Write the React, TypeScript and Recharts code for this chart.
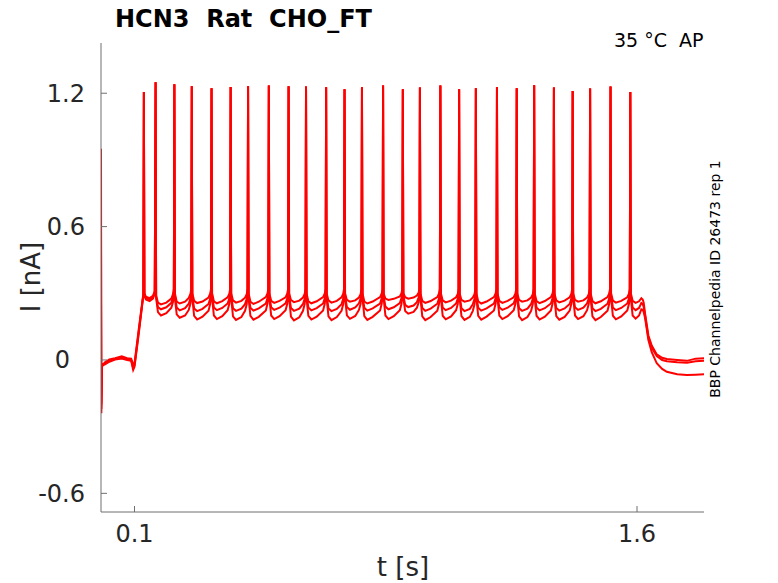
import { LineChart, Line, XAxis, YAxis } from "recharts";

// sample times [s], shared by the three sweeps
const timeS = [
  0, 0.001, 0.003, 0.012, 0.025, 0.042, 0.062, 0.078, 0.09, 0.096, 0.1, 0.112, 0.124,
  0.1265, 0.128, 0.1295, 0.134, 0.145, 0.155, 0.1605, 0.163,
  0.1645, 0.17, 0.179, 0.195, 0.21, 0.215, 0.2175, 0.219,
  0.2205, 0.226, 0.235, 0.251, 0.262, 0.267, 0.2695, 0.271,
  0.2725, 0.278, 0.287, 0.303, 0.321, 0.326, 0.3285, 0.33,
  0.3315, 0.337, 0.346, 0.362, 0.378, 0.383, 0.3855, 0.387,
  0.3885, 0.394, 0.403, 0.419, 0.43, 0.435, 0.4375, 0.439,
  0.4405, 0.446, 0.455, 0.471, 0.492, 0.497, 0.4995, 0.501,
  0.5025, 0.508, 0.517, 0.533, 0.551, 0.556, 0.5585, 0.56,
  0.5615, 0.567, 0.576, 0.592, 0.603, 0.608, 0.6105, 0.612,
  0.6135, 0.619, 0.628, 0.644, 0.663, 0.668, 0.6705, 0.672,
  0.6735, 0.679, 0.688, 0.704, 0.718, 0.723, 0.7255, 0.727,
  0.7285, 0.734, 0.743, 0.759, 0.77, 0.775, 0.7775, 0.779,
  0.7805, 0.786, 0.795, 0.811, 0.833, 0.838, 0.8405, 0.842,
  0.8435, 0.849, 0.858, 0.874, 0.892, 0.897, 0.8995, 0.901,
  0.9025, 0.908, 0.917, 0.933, 0.943, 0.948, 0.9505, 0.952,
  0.9535, 0.959, 0.968, 0.984, 1.004, 1.009, 1.0115, 1.013,
  1.0145, 1.02, 1.029, 1.045, 1.06, 1.065, 1.0675, 1.069,
  1.0705, 1.076, 1.085, 1.101, 1.11, 1.115, 1.1175, 1.119,
  1.1205, 1.126, 1.135, 1.151, 1.173, 1.178, 1.1805, 1.182,
  1.1835, 1.189, 1.198, 1.214, 1.232, 1.237, 1.2395, 1.241,
  1.2425, 1.248, 1.257, 1.273, 1.284, 1.289, 1.2915, 1.293,
  1.2945, 1.3, 1.309, 1.325, 1.343, 1.348, 1.3505, 1.352,
  1.3535, 1.359, 1.368, 1.384, 1.399, 1.404, 1.4065, 1.408,
  1.4095, 1.415, 1.424, 1.44, 1.451, 1.456, 1.4585, 1.46,
  1.4615, 1.467, 1.476, 1.492, 1.512, 1.517, 1.5195, 1.521,
  1.5225, 1.528, 1.537, 1.553, 1.571, 1.576, 1.5785, 1.58,
  1.5815, 1.587, 1.596, 1.606, 1.613, 1.617, 1.62, 1.624, 1.629, 1.634, 1.644, 1.659, 1.675, 1.689, 1.72, 1.749, 1.775, 1.8,
];

// current [nA], sweep 1 (upper)
const sweep1 = [
  0.95, -0.24, -0.03, -0.01, 0.002, 0.008, 0.016, 0.008, 0.006, -0.02, -0.015, 0.13, 0.27,
  0.3, 1.206, 0.3, 0.285, 0.278, 0.288, 0.31, 1.249,
  0.29, 0.258, 0.25, 0.258, 0.276, 0.296, 0.32, 1.24,
  0.3, 0.262, 0.254, 0.262, 0.279, 0.297, 0.32, 1.231,
  0.3, 0.266, 0.256, 0.263, 0.281, 0.298, 0.32, 1.222,
  0.3, 0.264, 0.255, 0.265, 0.282, 0.297, 0.32, 1.228,
  0.3, 0.268, 0.258, 0.266, 0.28, 0.296, 0.32, 1.231,
  0.3, 0.262, 0.252, 0.262, 0.283, 0.299, 0.32, 1.235,
  0.3, 0.266, 0.257, 0.266, 0.282, 0.298, 0.32, 1.231,
  0.3, 0.27, 0.26, 0.267, 0.281, 0.297, 0.32, 1.23,
  0.3, 0.264, 0.255, 0.264, 0.283, 0.299, 0.32, 1.227,
  0.3, 0.268, 0.258, 0.266, 0.282, 0.297, 0.32, 1.218,
  0.3, 0.27, 0.262, 0.268, 0.281, 0.296, 0.32, 1.227,
  0.3, 0.263, 0.254, 0.263, 0.283, 0.299, 0.32, 1.235,
  0.3, 0.276, 0.27, 0.275, 0.286, 0.3, 0.32, 1.218,
  0.3, 0.282, 0.276, 0.281, 0.29, 0.302, 0.32, 1.226,
  0.3, 0.266, 0.257, 0.265, 0.283, 0.299, 0.32, 1.235,
  0.3, 0.268, 0.259, 0.267, 0.282, 0.297, 0.32, 1.218,
  0.3, 0.27, 0.262, 0.268, 0.281, 0.296, 0.32, 1.222,
  0.3, 0.264, 0.254, 0.263, 0.283, 0.299, 0.32, 1.228,
  0.3, 0.266, 0.257, 0.266, 0.282, 0.298, 0.32, 1.222,
  0.3, 0.27, 0.262, 0.268, 0.281, 0.296, 0.32, 1.236,
  0.3, 0.265, 0.256, 0.265, 0.283, 0.299, 0.32, 1.226,
  0.3, 0.268, 0.259, 0.267, 0.282, 0.297, 0.32, 1.21,
  0.3, 0.27, 0.262, 0.268, 0.281, 0.296, 0.32, 1.221,
  0.3, 0.265, 0.255, 0.264, 0.283, 0.299, 0.32, 1.23,
  0.3, 0.267, 0.258, 0.266, 0.282, 0.298, 0.32, 1.206,
  0.3, 0.266, 0.257, 0.264, 0.278, 0.272, 0.258, 0.21, 0.16, 0.11, 0.065, 0.025, 0.01, 0.004, 0, -0.004, 0.006, 0.008,
];

// sweep 2 (middle)
const sweep2 = [
  0.6, -0.22, -0.02, -0.015, -0.004, 0.004, 0.01, 0.004, 0, -0.035, -0.025, 0.12, 0.265,
  0.295, 1.206, 0.295, 0.278, 0.272, 0.282, 0.305, 1.249,
  0.285, 0.238, 0.228, 0.237, 0.257, 0.282, 0.31, 1.24,
  0.29, 0.236, 0.223, 0.233, 0.253, 0.277, 0.31, 1.231,
  0.29, 0.232, 0.22, 0.23, 0.252, 0.276, 0.31, 1.222,
  0.29, 0.236, 0.224, 0.234, 0.254, 0.277, 0.31, 1.228,
  0.29, 0.233, 0.221, 0.231, 0.251, 0.275, 0.31, 1.231,
  0.29, 0.235, 0.222, 0.232, 0.254, 0.278, 0.31, 1.235,
  0.29, 0.237, 0.225, 0.235, 0.255, 0.277, 0.31, 1.231,
  0.29, 0.234, 0.221, 0.231, 0.252, 0.276, 0.31, 1.23,
  0.29, 0.236, 0.223, 0.233, 0.254, 0.278, 0.31, 1.227,
  0.29, 0.232, 0.22, 0.23, 0.251, 0.275, 0.31, 1.218,
  0.29, 0.238, 0.226, 0.236, 0.255, 0.277, 0.31, 1.227,
  0.29, 0.235, 0.222, 0.232, 0.254, 0.278, 0.31, 1.235,
  0.29, 0.24, 0.228, 0.237, 0.256, 0.278, 0.31, 1.218,
  0.29, 0.248, 0.238, 0.245, 0.26, 0.28, 0.31, 1.226,
  0.29, 0.234, 0.221, 0.231, 0.253, 0.277, 0.31, 1.235,
  0.29, 0.236, 0.224, 0.234, 0.254, 0.276, 0.31, 1.218,
  0.29, 0.233, 0.22, 0.23, 0.251, 0.275, 0.31, 1.222,
  0.29, 0.235, 0.222, 0.232, 0.254, 0.278, 0.31, 1.228,
  0.29, 0.237, 0.225, 0.235, 0.255, 0.277, 0.31, 1.222,
  0.29, 0.233, 0.221, 0.231, 0.252, 0.276, 0.31, 1.236,
  0.29, 0.236, 0.223, 0.233, 0.254, 0.278, 0.31, 1.226,
  0.29, 0.234, 0.222, 0.232, 0.252, 0.276, 0.31, 1.21,
  0.29, 0.237, 0.225, 0.235, 0.255, 0.277, 0.31, 1.221,
  0.29, 0.233, 0.22, 0.23, 0.253, 0.277, 0.31, 1.23,
  0.29, 0.236, 0.224, 0.234, 0.254, 0.277, 0.31, 1.206,
  0.29, 0.236, 0.224, 0.234, 0.256, 0.252, 0.238, 0.2, 0.15, 0.1, 0.055, 0.018, 0, -0.006, -0.01, -0.012, -0.006, -0.004,
];

// sweep 3 (lower)
const sweep3 = [
  0.3, -0.2, -0.025, -0.02, -0.008, 0.002, 0.006, 0, -0.004, -0.045, -0.03, 0.11, 0.26,
  0.29, 1.206, 0.29, 0.272, 0.265, 0.276, 0.3, 1.249,
  0.28, 0.215, 0.2, 0.21, 0.235, 0.262, 0.3, 1.24,
  0.28, 0.205, 0.19, 0.2, 0.225, 0.254, 0.3, 1.231,
  0.28, 0.198, 0.182, 0.195, 0.222, 0.252, 0.3, 1.222,
  0.28, 0.2, 0.184, 0.197, 0.224, 0.253, 0.3, 1.228,
  0.28, 0.196, 0.18, 0.193, 0.221, 0.251, 0.3, 1.231,
  0.28, 0.198, 0.181, 0.194, 0.223, 0.254, 0.3, 1.235,
  0.28, 0.2, 0.184, 0.197, 0.224, 0.253, 0.3, 1.231,
  0.28, 0.195, 0.178, 0.192, 0.221, 0.252, 0.3, 1.23,
  0.28, 0.198, 0.182, 0.195, 0.223, 0.254, 0.3, 1.227,
  0.28, 0.196, 0.179, 0.193, 0.221, 0.251, 0.3, 1.218,
  0.28, 0.201, 0.185, 0.198, 0.225, 0.253, 0.3, 1.227,
  0.28, 0.197, 0.18, 0.194, 0.223, 0.254, 0.3, 1.235,
  0.28, 0.2, 0.184, 0.197, 0.224, 0.253, 0.3, 1.218,
  0.28, 0.22, 0.208, 0.216, 0.235, 0.258, 0.3, 1.226,
  0.28, 0.196, 0.179, 0.193, 0.222, 0.253, 0.3, 1.235,
  0.28, 0.199, 0.183, 0.196, 0.224, 0.252, 0.3, 1.218,
  0.28, 0.197, 0.18, 0.194, 0.221, 0.251, 0.3, 1.222,
  0.28, 0.198, 0.181, 0.195, 0.223, 0.254, 0.3, 1.228,
  0.28, 0.2, 0.184, 0.197, 0.224, 0.253, 0.3, 1.222,
  0.28, 0.196, 0.179, 0.193, 0.221, 0.252, 0.3, 1.236,
  0.28, 0.199, 0.182, 0.195, 0.223, 0.254, 0.3, 1.226,
  0.28, 0.197, 0.181, 0.194, 0.222, 0.252, 0.3, 1.21,
  0.28, 0.2, 0.184, 0.197, 0.224, 0.253, 0.3, 1.221,
  0.28, 0.196, 0.179, 0.193, 0.222, 0.253, 0.3, 1.23,
  0.28, 0.199, 0.183, 0.196, 0.223, 0.253, 0.3, 1.206,
  0.28, 0.2, 0.186, 0.2, 0.228, 0.226, 0.215, 0.19, 0.14, 0.09, 0.035, -0.015, -0.04, -0.053, -0.064, -0.068, -0.066, -0.064,
];

const xTicks = [0.1, 1.6];
const yTicks = [-0.6, 0, 0.6, 1.2];

const rows = timeS.map((t, i) => ({ t, s1: sweep1[i], s2: sweep2[i], s3: sweep3[i] }));

const W = 778;
const H = 583;
const FONT = "'DejaVu Sans', sans-serif";
const AXIS = "#6f6f6f";
const INK = "#262626";
const RED = "#ff0000";

// y tick label; the "0" label sits a little left of the others, as in the original
function YTick(props: any) {
  const { x, y, payload } = props;
  const v = payload.value;
  const dx = v === 0 ? -15 : 0;
  return (
    <text x={x + dx} y={y} dy="0.355em" textAnchor="end" fill={INK} fontSize={24} fontFamily={FONT}>
      {String(v)}
    </text>
  );
}

export default function App() {
  return (
    <div style={{ position: "absolute", left: 0, top: 0, width: W, height: H, background: "#fff" }}>
      <LineChart width={W} height={H} data={rows} margin={{ top: 43, right: 74, bottom: 41, left: 41 }}>
        <XAxis
          dataKey="t"
          type="number"
          domain={[0, 1.8]}
          ticks={xTicks}
          interval={0}
          allowDataOverflow
          height={30}
          stroke={AXIS}
          tickSize={-6}
          tickMargin={19}
          tick={{ fill: INK, fontSize: 24, fontFamily: FONT }}
          tickFormatter={(v) => String(v)}
        />
        <YAxis
          type="number"
          domain={[-0.684, 1.426]}
          ticks={yTicks}
          interval={0}
          allowDataOverflow
          width={60}
          stroke={AXIS}
          tickSize={-6}
          tickMargin={22}
          tick={<YTick />}
        />
        {["s1", "s2", "s3"].map((k) => (
          <Line
            key={k}
            type="linear"
            dataKey={k}
            stroke={RED}
            strokeWidth={2}
            dot={false}
            activeDot={false}
            isAnimationActive={false}
          />
        ))}
      </LineChart>
      <svg width={W} height={H} style={{ position: "absolute", left: 0, top: 0, pointerEvents: "none" }}>
        <text x={115} y={27} fontFamily={FONT} fontWeight="bold" fontSize={24} fill="#000" style={{ whiteSpace: "pre" }}>
          {"HCN3  Rat  CHO_FT"}
        </text>
        <text x={614} y={47} fontFamily={FONT} fontSize={19} fill="#000" style={{ whiteSpace: "pre" }}>
          {"35 °C  AP"}
        </text>
        <text x={720} y={279} fontFamily={FONT} fontSize={14} fill="#000" textAnchor="middle" transform="rotate(-90 720 279)">
          BBP Channelpedia ID 26473 rep 1
        </text>
        <text x={40} y={277} fontFamily={FONT} fontSize={26} fill={INK} textAnchor="middle" transform="rotate(-90 40 277)">
          I [nA]
        </text>
        <text x={403} y={576} fontFamily={FONT} fontSize={26} fill={INK} textAnchor="middle">
          t [s]
        </text>
      </svg>
    </div>
  );
}
